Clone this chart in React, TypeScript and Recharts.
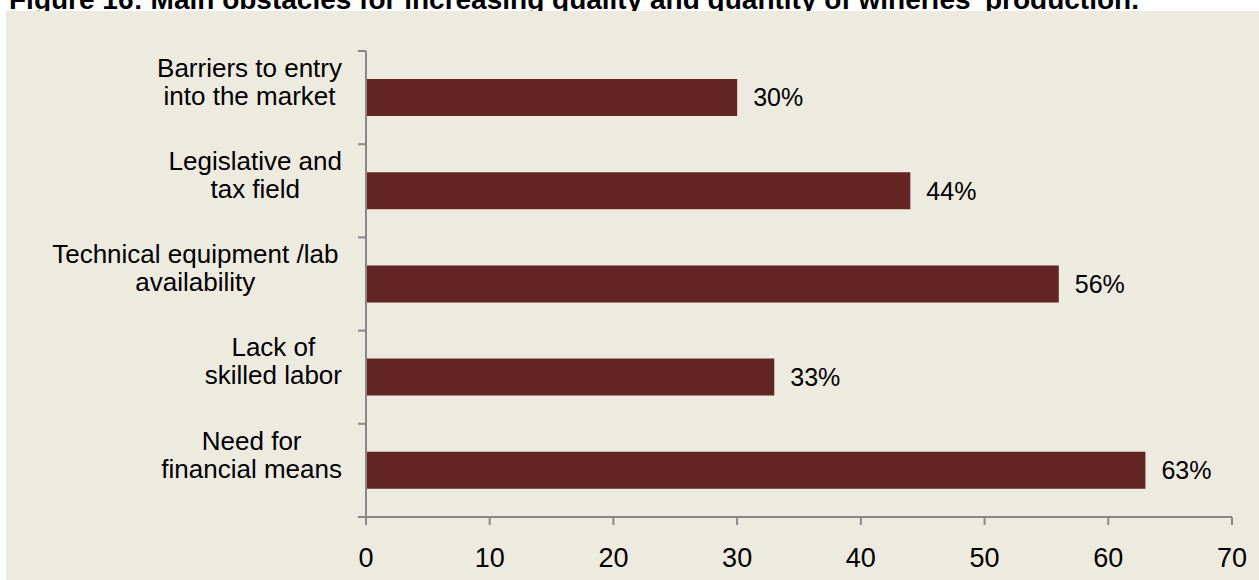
import React from 'react';
import { BarChart, Bar, XAxis, YAxis, LabelList } from 'recharts';

const categories = [
  'Barriers to entry\ninto the market',
  'Legislative and\ntax field',
  'Technical equipment /lab \navailability',
  'Lack of\nskilled labor',
  'Need for\nfinancial means',
];
const shares = [30, 44, 56, 33, 63];
const xTicks = [0, 10, 20, 30, 40, 50, 60, 70];

const title = "Figure 16: Main obstacles for increasing quality and quantity of wineries' production.";

const data = categories.map((name, i) => ({ name, value: shares[i] }));

const FONT = "Arial, 'Liberation Sans', sans-serif";
const AXIS = '#888888';
const TICK_SIZE = 8;
const TICK_MARGIN = 16;
const LABEL_SIZE = 26;

let ctx: CanvasRenderingContext2D | null = null;
function measure(text: string, size: number) {
  if (!ctx) ctx = document.createElement('canvas').getContext('2d');
  if (!ctx) return text.length * size * 0.5;
  ctx.font = `${size}px 'Liberation Sans', Arial, sans-serif`;
  return ctx.measureText(text).width;
}

// category labels: lines centred on each other, block right-aligned, a bit above the band centre.
// tick marks sit on the band boundaries (excel style), so draw them here too
function CategoryTick(props: any) {
  const { x, y, payload, index } = props;
  const half = payload.offset || 0;
  const axisX = x + TICK_SIZE + TICK_MARGIN;
  const lines: string[] = String(payload.value).split('\n');
  const maxW = Math.max(...lines.map((l) => measure(l, LABEL_SIZE)));
  const cx = x - maxW / 2;
  const lh = 28;
  const top = y - 16 - ((lines.length - 1) * lh) / 2;
  return (
    <g>
      <line x1={axisX - TICK_SIZE} x2={axisX} y1={y - half} y2={y - half} stroke={AXIS} strokeWidth={2} />
      {index === categories.length - 1 && (
        <line x1={axisX - TICK_SIZE} x2={axisX} y1={y + half} y2={y + half} stroke={AXIS} strokeWidth={2} />
      )}
      <text textAnchor='middle' fontSize={LABEL_SIZE} fontFamily={FONT} fill='#000'>
        {lines.map((l, i) => (
          <tspan key={i} x={cx} y={top + i * lh} dy='0.35em'>
            {l.trim()}
          </tspan>
        ))}
      </text>
    </g>
  );
}

export default function App() {
  return (
    <div style={{ position: 'fixed', left: 0, top: 0, width: 1259, height: 580, background: '#fff', overflow: 'hidden' }}>
      <div
        style={{
          position: 'absolute',
          left: 9,
          top: -14,
          fontFamily: FONT,
          fontWeight: 'bold',
          fontSize: 28,
          lineHeight: '28px',
          whiteSpace: 'nowrap',
          color: '#000',
        }}>
        {title}
      </div>
      <div style={{ position: 'absolute', left: 6, top: 11, width: 1253, height: 569, background: '#EDEAE0' }}>
        <BarChart
          width={1253}
          height={569}
          data={data}
          layout='vertical'
          margin={{ top: 40, right: 27, bottom: 0, left: 0 }}>
          <XAxis
            type='number'
            domain={[0, 70]}
            ticks={xTicks}
            interval={0}
            height={63}
            stroke={AXIS}
            axisLine={{ stroke: AXIS, strokeWidth: 2 }}
            tickLine={{ stroke: AXIS, strokeWidth: 2 }}
            tickSize={8}
            tickMargin={23}
            tick={{ fill: '#000', fontSize: 27, fontFamily: FONT }}
          />
          <YAxis
            type='category'
            dataKey='name'
            width={360}
            axisLine={{ stroke: AXIS, strokeWidth: 2 }}
            tickLine={false}
            tickSize={TICK_SIZE}
            tickMargin={TICK_MARGIN}
            interval={0}
            tick={<CategoryTick />}
          />
          <Bar dataKey='value' fill='#632523' barSize={37} isAnimationActive={false}>
            <LabelList
              dataKey='value'
              position='right'
              offset={16}
              formatter={(v: any) => `${v}%`}
              fill='#000'
              fontSize={25}
              fontFamily={FONT}
            />
          </Bar>
        </BarChart>
      </div>
    </div>
  );
}
